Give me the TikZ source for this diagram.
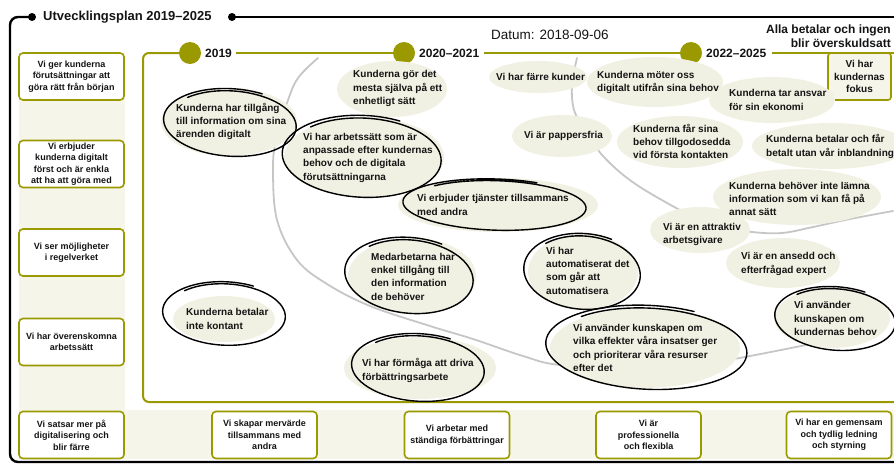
\documentclass[tikz,border=0pt]{standalone}
\usepackage{fontspec}
\setmainfont{Liberation Sans}
\usetikzlibrary{shapes.geometric}
\definecolor{olv}{RGB}{155,153,0}
\definecolor{bubfill}{RGB}{241,241,227}
\definecolor{stripfill}{RGB}{245,245,234}
\definecolor{curvegray}{RGB}{198,198,198}
\definecolor{ink}{RGB}{20,20,20}
\newcommand\bubblefill[4]{\fill[bubfill] (#1,#2) ellipse [x radius=#3pt, y radius=#4pt];}
\newcommand\sketchring[5]{%
  \begin{scope}[shift={(#1,#2)}, rotate=#5]
    \draw[sketchline] plot[domain=225:655, samples=100, smooth, variable=\t]
      ({#3*(0.965+0.08*(\t-225)/430)*cos(\t)}, {#4*(0.965+0.08*(\t-225)/430)*sin(\t)});
  \end{scope}}
\tikzset{
  sketchline/.style={draw=black, line width=1.4pt, line cap=round},
  btxt/.style={font=\bfseries\fontsize{10}{13.3}\selectfont, align=left, inner sep=0pt, anchor=west, text=ink},
  goalbox/.style={draw=olv, line width=1.6pt, fill=white, rounded corners=4pt, minimum width=105pt, minimum height=47pt, inner sep=0pt, align=center, text=ink, font=\bfseries\fontsize{9}{11.5}\selectfont},
  olvline/.style={draw=olv, line width=2pt},
  blackline/.style={draw=black, line width=2.4pt},
  yeardot/.style={fill=olv},
  yeartxt/.style={font=\bfseries\fontsize{12}{14}\selectfont, anchor=west, inner sep=0pt, text=ink},
  curve/.style={draw=curvegray, line width=1.8pt, line cap=round}
}
\begin{document}
\begin{tikzpicture}[x=1pt,y=-1pt]
\useasboundingbox (0,0) rectangle (894,464);
% background strips
\fill[stripfill] (19,53) rectangle (125,459);
\fill[stripfill] (19,410) rectangle (894,459);
% black outer frame
\coordinate (dL) at (32,17);
\coordinate (dR) at (232,17);
\draw[blackline, rounded corners=8pt] (dL) -- (10,17) -- (10,462) -- (894,462);
\draw[blackline] (dR) -- (894,17);
\fill (dL) circle (4pt);
\fill (dR) circle (4pt);
\node[anchor=west, inner sep=0pt, font=\bfseries\fontsize{13}{15}\selectfont, text=ink] (title) at (43,17) {Utvecklingsplan 2019–2025};
\node[anchor=west, inner sep=0pt, font=\fontsize{13.5}{16}\selectfont, text=ink] (datum) at (491,35) {Datum: 2018-09-06};
\node[anchor=east, inner sep=0pt, align=right, font=\bfseries\fontsize{12}{13.5}\selectfont, text=ink] (alla) at (891,36) {Alla betalar och ingen\\blir överskuldsatt};
% olive main frame
\draw[olvline, rounded corners=6pt] (179,53) -- (143,53) -- (143,402) -- (894,402);
\draw[olvline] (236,53) -- (393,53);
\draw[olvline] (484,53) -- (680,53);
\draw[olvline] (772,53) -- (894,53);
\fill[yeardot] (190,53) circle (11pt);
\fill[yeardot] (404,53) circle (11pt);
\fill[yeardot] (691,53) circle (11pt);
\node[yeartxt] (y1) at (205,53) {2019};
\node[yeartxt] (y2) at (419,53) {2020–2021};
\node[yeartxt] (y3) at (706,53) {2022–2025};
\node[draw=olv, line width=1.6pt, fill=stripfill, rounded corners=3pt, minimum width=63pt, minimum height=47pt, inner sep=0pt, align=center, text=ink, font=\bfseries\fontsize{10}{12.5}\selectfont] (fokus) at (859.5,76.5) {Vi har\\kundernas\\fokus};
% gray curves
\draw[curve] plot[smooth, tension=0.6] coordinates {(318,58) (298,78) (287,103) (276,140) (273,170) (277,220) (297,260) (327,284) (370,306) (430,326) (473,339) (523,356) (560,365) (640,369) (700,364) (734,359) (791,348) (810,344)};
\draw[curve] plot[smooth, tension=0.6] coordinates {(577,58) (572,85) (574,110) (584,128) (598,150) (614,167) (634,183) (660,199) (690,215) (720,227) (752,232) (782,233) (813,227) (850,219) (893,211)};
% bubble fills
\bubblefill{229}{122}{68}{34}
\bubblefill{392}{89}{55}{28}
\bubblefill{364}{157}{80}{40}
\bubblefill{498}{205}{100}{27}
\bubblefill{412}{276}{64}{38}
\bubblefill{224}{319}{51}{23}
\bubblefill{420}{368}{76}{31}
\bubblefill{538}{77}{49}{16}
\bubblefill{655}{82}{68}{25}
\bubblefill{772}{100}{63}{23}
\bubblefill{562}{136}{50}{21}
\bubblefill{680}{142}{63}{26}
\bubblefill{830}{146}{78}{23}
\bubblefill{797}{197}{84}{28}
\bubblefill{700}{230}{50}{23}
\bubblefill{783}{263}{57}{25}
\bubblefill{583}{272}{55}{38}
\bubblefill{645}{348}{95}{40}
\bubblefill{832}{318}{58}{30}
% sketch rings
\sketchring{231}{123}{66}{33}{-4}
\sketchring{363}{157}{79}{40}{-3}
\sketchring{496}{205}{91}{25}{-2}
\sketchring{410}{276}{64}{37}{-6}
\sketchring{225}{314}{61}{31}{-3}
\sketchring{419}{368}{66}{33}{-4}
\sketchring{583}{272}{58}{37}{-5}
\sketchring{648}{348}{100}{41}{-3}
\sketchring{836}{319}{60}{31}{-5}
% bubble texts
\node[btxt] (t1) at (176,121.5) {Kunderna har tillgång\\till information om sina\\ärenden digitalt};
\node[btxt] (t2) at (353,88.5) {Kunderna gör det\\mesta själva på ett\\enhetligt sätt};
\node[btxt] (t3) at (303,157.5) {Vi har arbetssätt som är\\anpassade efter kundernas\\behov och de digitala\\förutsättningarna};
\node[btxt] (t4) at (417,205) {Vi erbjuder tjänster tillsammans\\med andra};
\node[btxt] (t5) at (371,276.5) {Medarbetarna har\\enkel tillgång till\\den information\\de behöver};
\node[btxt] (t6) at (186,319) {Kunderna betalar\\inte kontant};
\node[btxt] (t7) at (362,370.5) {Vi har förmåga att driva\\förbättringsarbete};
\node[btxt] (t8) at (496,77) {Vi har färre kunder};
\node[btxt] (t9) at (597,82.5) {Kunderna möter oss\\digitalt utifrån sina behov};
\node[btxt] (t10) at (729,100) {Kunderna tar ansvar\\för sin ekonomi};
\node[btxt] (t11) at (524,136) {Vi är pappersfria};
\node[btxt] (t12) at (633,141.5) {Kunderna får sina\\behov tillgodosedda\\vid första kontakten};
\node[btxt] (t13) at (766,146.5) {Kunderna betalar och får\\betalt utan vår inblandning};
\node[btxt] (t14) at (729,199) {Kunderna behöver inte lämna\\information som vi kan få på\\annat sätt};
\node[btxt] (t15) at (663,234.5) {Vi är en attraktiv\\arbetsgivare};
\node[btxt] (t16) at (741,264) {Vi är en ansedd och\\efterfrågad expert};
\node[btxt] (t17) at (546,270.5) {Vi har\\automatiserat det\\som går att\\automatisera};
\node[btxt] (t18) at (573,348) {Vi använder kunskapen om\\vilka effekter våra insatser ger\\och prioriterar våra resurser\\efter det};
\node[btxt] (t19) at (794,318.5) {Vi använder\\kunskapen om\\kundernas behov};
% left column boxes
\node[goalbox] (l1) at (71.5,76.5) {Vi ger kunderna\\förutsättningar att\\göra rätt från början};
\node[goalbox] (l2) at (71.5,164) {Vi erbjuder\\kunderna digitalt\\först och är enkla\\att ha att göra med};
\node[goalbox] (l3) at (71.5,252.5) {Vi ser möjligheter\\i regelverket};
\node[goalbox] (l4) at (71.5,342) {Vi har överenskomna\\arbetssätt};
% bottom row boxes
\node[goalbox] (b1) at (71.5,435) {Vi satsar mer på\\digitalisering och\\blir färre};
\node[goalbox] (b2) at (264.5,435) {Vi skapar mervärde\\tillsammans med\\andra};
\node[goalbox] (b3) at (457,435) {Vi arbetar med\\ständiga förbättringar};
\node[goalbox] (b4) at (648.5,435) {Vi är\\professionella\\och flexibla};
\node[goalbox] (b5) at (839,435) {Vi har en gemensam\\och tydlig ledning\\och styrning};
\end{tikzpicture}
\end{document}
